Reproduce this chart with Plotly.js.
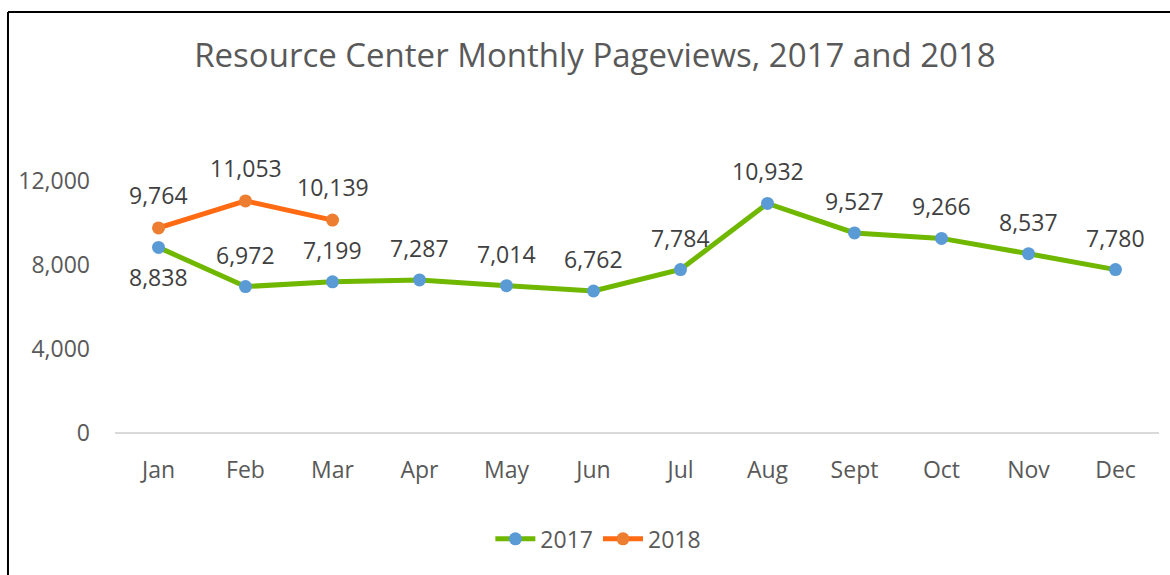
<!DOCTYPE html>
<html>
<head>
<meta charset="utf-8">
<script src="https://cdn.plot.ly/plotly-3.0.1.min.js"></script>
<style>
html,body{margin:0;padding:0;background:#fff;}
#chart{width:1170px;height:575px;}
</style>
</head>
<body>
<div id="chart"></div>
<script>
const months = ["Jan","Feb","Mar","Apr","May","Jun","Jul","Aug","Sept","Oct","Nov","Dec"];
const views2017 = [8838,6972,7199,7287,7014,6762,7784,10932,9527,9266,8537,7780];
const months2018 = ["Jan","Feb","Mar"];
const views2018 = [9764,11053,10139];
const yTicks = [0,4000,8000,12000];
const yTickLabels = ["0","4,000","8,000","12,000"];

const fmt = v => v.toLocaleString("en-US");
const FONT = "Open Sans, sans-serif";
const labelFont = {family:FONT, size:23, color:"#404040"};

const traces = [
  {
    x: months, y: views2017, name: "2017", type: "scatter", mode: "lines+markers",
    line: {color:"#70B800", width:5},
    marker: {color:"#5B9BD5", size:13},
    cliponaxis: false, hoverinfo: "skip"
  },
  {
    x: months2018, y: views2018, name: "2018", type: "scatter", mode: "lines+markers",
    line: {color:"#FF6A13", width:5},
    marker: {color:"#ED7D31", size:13},
    cliponaxis: false, hoverinfo: "skip"
  }
];

const annotations = [];
views2017.forEach((v,i) => annotations.push({
  x: months[i], y: v, xref:"x", yref:"y", text: fmt(v), showarrow:false,
  font: labelFont, xanchor:"center", yanchor:"middle", yshift: i === 0 ? -30 : 32
}));
views2018.forEach((v,i) => annotations.push({
  x: months2018[i], y: v, xref:"x", yref:"y", text: fmt(v), showarrow:false,
  font: labelFont, xanchor:"center", yanchor:"middle", yshift: 33
}));

const layout = {
  width: 1170, height: 575,
  margin: {l:115, r:11, t:139, b:142},
  paper_bgcolor: "#ffffff", plot_bgcolor: "#ffffff",
  title: {text: "Resource Center Monthly Pageviews, 2017 and 2018",
          font: {family:FONT, size:33, color:"#595959"},
          x: 0.5085, xanchor: "center", y: 0.904, yanchor: "middle"},
  xaxis: {
    type: "category", categoryarray: months, categoryorder: "array",
    range: [-0.5, 11.5], showgrid: false, zeroline: false,
    showline: false, ticks: "", ticklen: 0, ticklabelstandoff: 21,
    tickfont: {family:FONT, size:23, color:"#595959"},
    automargin: false, fixedrange: true
  },
  yaxis: {
    range: [0, 14000], tickvals: yTicks, ticktext: yTickLabels,
    showgrid: false, zeroline: true, zerolinecolor: "#D9D9D9", zerolinewidth: 2,
    showline: false, ticks: "", ticklabelstandoff: 24,
    tickfont: {family:FONT, size:23, color:"#595959"},
    automargin: false, fixedrange: true
  },
  showlegend: true,
  legend: {orientation: "h", x: 0.463, xanchor: "center", y: -0.36, yanchor: "middle",
           font: {family:FONT, size:23, color:"#595959"},
           itemwidth: 40, tracegroupgap: 0},
  annotations: annotations,
  shapes: [
    {type:"line", xref:"paper", yref:"paper", x0:-0.1025, x1:1.02, y0:1.432, y1:1.432,
     line:{color:"#000000", width:2}},
    {type:"line", xref:"paper", yref:"paper", x0:-0.1025, x1:-0.1025, y0:1.432, y1:-0.52,
     line:{color:"#000000", width:2}}
  ]
};

Plotly.newPlot("chart", traces, layout, {displayModeBar:false, staticPlot:true});
</script>
</body>
</html>
